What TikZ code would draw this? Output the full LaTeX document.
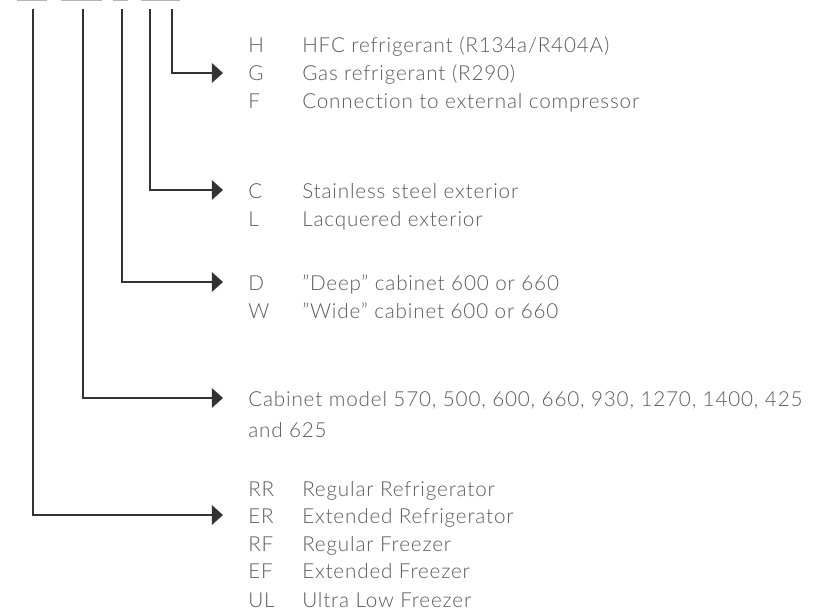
\documentclass[tikz,border=0pt]{standalone}
\usepackage{fontspec}
\setmainfont{Lato Light}[LetterSpace=4,Ligatures={NoCommon}]
\usetikzlibrary{arrows.meta}
\definecolor{linec}{HTML}{333333}
\definecolor{textc}{HTML}{5A5A5A}
\definecolor{barc}{HTML}{B4B4B4}
\tikzset{
  conn/.style={draw=linec, line width=1.5pt, -{Triangle[length=8.3pt,width=14.5pt]}},
  lbl/.style={anchor=base west, inner sep=0pt, text=textc, font=\fontsize{15.5pt}{18pt}\selectfont},
  topbar/.style={draw=barc, line width=1.5pt}
}
\begin{document}
\begin{tikzpicture}[x=0.75pt,y=-0.75pt]
\useasboundingbox (0,0) rectangle (816,613);
% top bars
\draw[topbar] (17,0.5) -- (47,0.5);
\draw[topbar] (61,0.5) -- (102,0.5);
\draw[topbar] (113,0.5) -- (128,0.5);
\draw[topbar] (141,0.5) -- (180,0.5);
% line tops
\coordinate (t1) at (33,9);
\coordinate (t2) at (83,9);
\coordinate (t3) at (122,9);
\coordinate (t4) at (150,9);
\coordinate (t5) at (172,9);
% arrow tips
\coordinate (a5) at (223,73);
\coordinate (a4) at (223,190);
\coordinate (a3) at (223,282);
\coordinate (a2) at (223,398);
\coordinate (a1) at (223,515);
% texts (baselines)
\node[lbl] (hL) at (248,53) {H};
\node[lbl] (hD) at (302,53) {HFC refrigerant (R134a/R404A)};
\node[lbl] (gL) at (248,81) {G};
\node[lbl] (gD) at (302,81) {Gas refrigerant (R290)};
\node[lbl] (fL) at (248,109) {F};
\node[lbl] (fD) at (302,109) {Connection to external compressor};
\node[lbl] (cL) at (248,198) {C};
\node[lbl] (cD) at (302,198) {Stainless steel exterior};
\node[lbl] (lL) at (248,226) {L};
\node[lbl] (lD) at (302,226) {Lacquered exterior};
\node[lbl] (dL) at (248,290) {D};
\node[lbl] (dD) at (302,290) {”Deep” cabinet 600 or 660};
\node[lbl] (wL) at (248,318) {W};
\node[lbl] (wD) at (302,318) {”Wide” cabinet 600 or 660};
\node[lbl] (cab1) at (248,406) {Cabinet model 570, 500, 600, 660, 930, 1270, 1400, 425};
\node[lbl] (cab2) at (248,437) {and 625};
\node[lbl] (rrL) at (248,496) {RR};
\node[lbl] (rrD) at (302,496) {Regular Refrigerator};
\node[lbl] (erL) at (248,523) {ER};
\node[lbl] (erD) at (302,523) {Extended Refrigerator};
\node[lbl] (rfL) at (248,551) {RF};
\node[lbl] (rfD) at (302,551) {Regular Freezer};
\node[lbl] (efL) at (248,578) {EF};
\node[lbl] (efD) at (302,578) {Extended Freezer};
\node[lbl] (ulL) at (248,607) {UL};
\node[lbl] (ulD) at (302,607) {Ultra Low Freezer};
% connectors
\draw[conn] (t5) |- (a5);
\draw[conn] (t4) |- (a4);
\draw[conn] (t3) |- (a3);
\draw[conn] (t2) |- (a2);
\draw[conn] (t1) |- (a1);
\end{tikzpicture}
\end{document}
